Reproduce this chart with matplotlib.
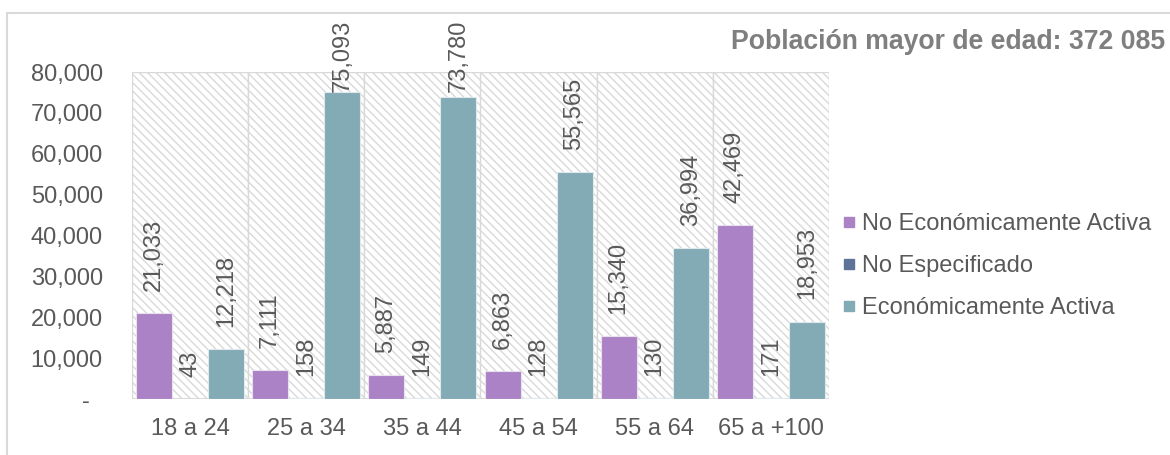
import matplotlib
matplotlib.use("Agg")
import matplotlib.pyplot as plt
from matplotlib.patches import Rectangle
from matplotlib.lines import Line2D
from matplotlib.ticker import FuncFormatter, MultipleLocator
import numpy as np

categories = ["18 a 24", "25 a 34", "35 a 44", "45 a 54", "55 a 64", "65 a +100"]
no_econ_activa = [21033, 7111, 5887, 6863, 15340, 42469]
no_especificado = [43, 158, 149, 128, 130, 171]
econ_activa = [12218, 75093, 73780, 55565, 36994, 18953]
series_names = ["No Económicamente Activa", "No Especificado", "Económicamente Activa"]
title_text = "Población mayor de edad: 372 085"

colors = ["#AB82C5", "#5F7399", "#82ABB5"]
text_color = "#595959"

plt.rcParams["font.family"] = ["Liberation Sans", "DejaVu Sans"]
plt.rcParams["hatch.linewidth"] = 1.0
plt.rcParams["hatch.color"] = "#c6c6c6"

W, H = 1170, 455
fig = plt.figure(figsize=(W / 100, H / 100), dpi=100)
ax = fig.add_axes([132 / W, 1 - 399 / H, (829 - 132) / W, (399 - 72) / H])

# outer frame
fig.patches.append(Rectangle((7 / W, -0.1), 1.2, 0.1 + 1 - 13 / H, transform=fig.transFigure,
                             fill=False, edgecolor="#d9d9d9", linewidth=1.5))

fs = 17
n = len(categories)
x = np.arange(n)
ax.set_xlim(-0.5, n - 0.5)
ax.set_ylim(0, 80000)

# hatched background blocks
for i in range(n):
    ax.add_patch(Rectangle((i - 0.5, 0), 1, 80000, facecolor="white", edgecolor="#d9d9d9",
                           hatch="\\\\\\\\", linewidth=1.0, zorder=0))

bw = 0.31
data = [no_econ_activa, no_especificado, econ_activa]
labels = []
for k, (vals, col) in enumerate(zip(data, colors)):
    pos = x + (k - 1) * bw
    ax.bar(pos, vals, width=bw, color=col, edgecolor="#e8e0ee" if k == 0 else "#dfe9ec",
           linewidth=0.8, zorder=2)
    for p, v in zip(pos, vals):
        a = ax.annotate(f"{v:,}", (p, v), xytext=(0, 16), textcoords="offset points",
                        rotation=90, ha="center", va="bottom", fontsize=fs, color=text_color,
                        zorder=3, annotation_clip=False)
        labels.append(a)

ax.axhline(0, color="#d9d9d9", linewidth=1.5, zorder=1)
for s in ax.spines.values():
    s.set_visible(False)

ax.yaxis.set_major_locator(MultipleLocator(10000))
ax.yaxis.set_major_formatter(FuncFormatter(lambda v, p: "-  " if v == 0 else f"{int(v):,}"))
ax.set_xticks(x)
ax.set_xticklabels(categories)
ax.tick_params(axis="y", length=0, pad=21, labelsize=fs, labelcolor=text_color)
ax.tick_params(axis="x", length=0, pad=14, labelsize=fs, labelcolor=text_color)

fig.text(1165 / W, 1 - 42 / H, title_text, ha="right", va="center", fontsize=19.2,
         fontweight="bold", color="#7f7f7f")

handles = [Line2D([], [], marker="s", linestyle="none", markersize=7.5, color=c) for c in colors]
fig.legend(handles, series_names, loc="center left", bbox_to_anchor=(842 / W, 1 - 266 / H),
           frameon=False, fontsize=fs, labelcolor=text_color, handlelength=0.6,
           handletextpad=0.25, labelspacing=0.85, borderaxespad=0, borderpad=0)

# keep data labels inside the chart frame (top limit ~20 px from the top)
fig.canvas.draw()
renderer = fig.canvas.get_renderer()
top_limit = H - 20
for a in labels:
    bb = a.get_window_extent(renderer)
    if bb.y1 > top_limit:
        over_px = bb.y1 - top_limit
        ox, oy = a.xyann
        a.xyann = (ox, oy - over_px * 72 / fig.dpi)

fig.savefig("out.png", dpi=100)
